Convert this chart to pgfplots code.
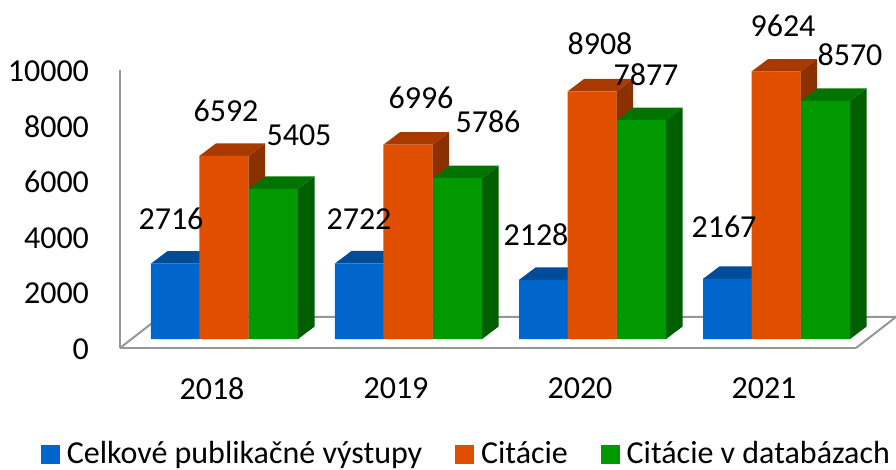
\documentclass[border=0pt]{standalone}
\usepackage{pgfplots}
\usepackage{fontspec}
\setmainfont{Carlito}
\pgfplotsset{compat=1.18}

\definecolor{cblue}{RGB}{0,102,204}
\definecolor{corange}{RGB}{224,78,0}
\definecolor{cgreen}{RGB}{0,153,0}
\definecolor{floorline}{RGB}{150,150,150}

% 1 px of the reference = 0.5pt here; depth of a bar = 16.6 px x 12.5 px
\def\bw{0.2663}
\def\dx{0.0902}
\def\dy{450}
\def\base{320}

% side and top faces of one bar: category, value, shift in category, colour
\newcommand\cuboid[4]{%
  \pgfmathsetmacro\xl{#1+#3-\bw/2}%
  \pgfmathsetmacro\xr{#1+#3+\bw/2}%
  \pgfmathsetmacro\xa{\xl+\dx}%
  \pgfmathsetmacro\xb{\xr+\dx}%
  \pgfmathsetmacro\yt{#2+\base}%
  \pgfmathsetmacro\yu{#2+\base+\dy}%
  \pgfmathsetmacro\ya{\base}%
  \pgfmathsetmacro\yb{\base+\dy}%
  \edef\temp{\noexpand\addplot[forget plot,fill=#4!62!black,draw=none] coordinates {(\xr,\ya) (\xb,\yb) (\xb,\yu) (\xr,\yt) (\xr,\ya)};
    \noexpand\addplot[forget plot,fill=#4!75!black,draw=none] coordinates {(\xl,\yt) (\xa,\yu) (\xb,\yu) (\xr,\yt) (\xl,\yt)};}%
  \temp}

\newcommand\lab[3]{\node[font=\fontsize{16}{18}\selectfont] at (#1*0.5pt,235pt-#2*0.5pt) {#3};}

\begin{document}
\begin{tikzpicture}
\useasboundingbox (0,0) rectangle (448pt,235pt);
\begin{axis}[
    at={(60pt,61pt)}, anchor=south west,
    scale only axis,
    width=368pt, height=139pt,
    xmin=-0.5, xmax=3.5,
    ymin=0, ymax=10000,
    clip=false,
    axis x line=bottom,
    axis y line=left,
    axis line style={-,floorline,line width=1pt},
    major tick length=0pt,
    xtick={0,1,2,3},
    xticklabels={2018,2019,2020,2021},
    ytick={0,2000,4000,6000,8000,10000},
    scaled y ticks=false,
    /pgf/number format/assume math mode=true,
    /pgf/number format/1000 sep={},
    tick label style={font=\fontsize{16}{18}\selectfont},
    yticklabel style={xshift=-12pt,yshift=-0.5pt},
    xticklabel style={yshift=-11.5pt},
    legend columns=3,
    legend cell align=left,
    legend style={
        at={(-39.5pt,-53pt)}, anchor=west,
        draw=none, fill=none, inner sep=0pt, outer sep=0pt,
        font=\fontsize{16}{18}\selectfont,
        /tikz/every even column/.style={column sep=14.5pt},
        /tikz/every odd column/.style={column sep=1.5pt},
    },
    legend image code/.code={\fill[#1] (0pt,-4.5pt) rectangle (9pt,4.5pt);},
]
% floor
\addplot[forget plot,floorline,line width=1pt] coordinates {(-0.5,0) (-0.283,1115) (3.717,1115) (3.5,0)};

% blue series
\cuboid{0}{2716}{-0.1984}{cblue}
\cuboid{1}{2722}{-0.1984}{cblue}
\cuboid{2}{2128}{-0.1984}{cblue}
\cuboid{3}{2167}{-0.1984}{cblue}
\addplot[forget plot,ybar,bar width=24.5pt,bar shift=-18.25pt,yshift=4.45pt,fill=cblue,draw=none]
    coordinates {(0,2716) (1,2722) (2,2128) (3,2167)};

% orange series
\cuboid{0}{6592}{0.0652}{corange}
\cuboid{1}{6996}{0.0652}{corange}
\cuboid{2}{8908}{0.0652}{corange}
\cuboid{3}{9624}{0.0652}{corange}
\addplot[forget plot,ybar,bar width=24.5pt,bar shift=6pt,yshift=4.45pt,fill=corange,draw=none]
    coordinates {(0,6592) (1,6996) (2,8908) (3,9624)};

% green series
\cuboid{0}{5405}{0.3342}{cgreen}
\cuboid{1}{5786}{0.3342}{cgreen}
\cuboid{2}{7877}{0.3342}{cgreen}
\cuboid{3}{8570}{0.3342}{cgreen}
\addplot[forget plot,ybar,bar width=24.5pt,bar shift=30.75pt,yshift=4.45pt,fill=cgreen,draw=none]
    coordinates {(0,5405) (1,5786) (2,7877) (3,8570)};

\addlegendimage{cblue}
\addlegendentry{Celkové publikačné výstupy}
\addlegendimage{corange}
\addlegendentry{Citácie}
\addlegendimage{cgreen}
\addlegendentry{Citácie v databázach}
\end{axis}
\lab{171}{219}{2716}
\lab{359}{219}{2722}
\lab{536}{235}{2128}
\lab{724}{227}{2167}
\lab{226}{111}{6592}
\lab{421}{98}{6996}
\lab{600}{44}{8908}
\lab{783}{26}{9624}
\lab{299}{135}{5405}
\lab{488}{122}{5786}
\lab{646}{75}{7877}
\lab{850}{55}{8570}
\end{tikzpicture}
\end{document}
